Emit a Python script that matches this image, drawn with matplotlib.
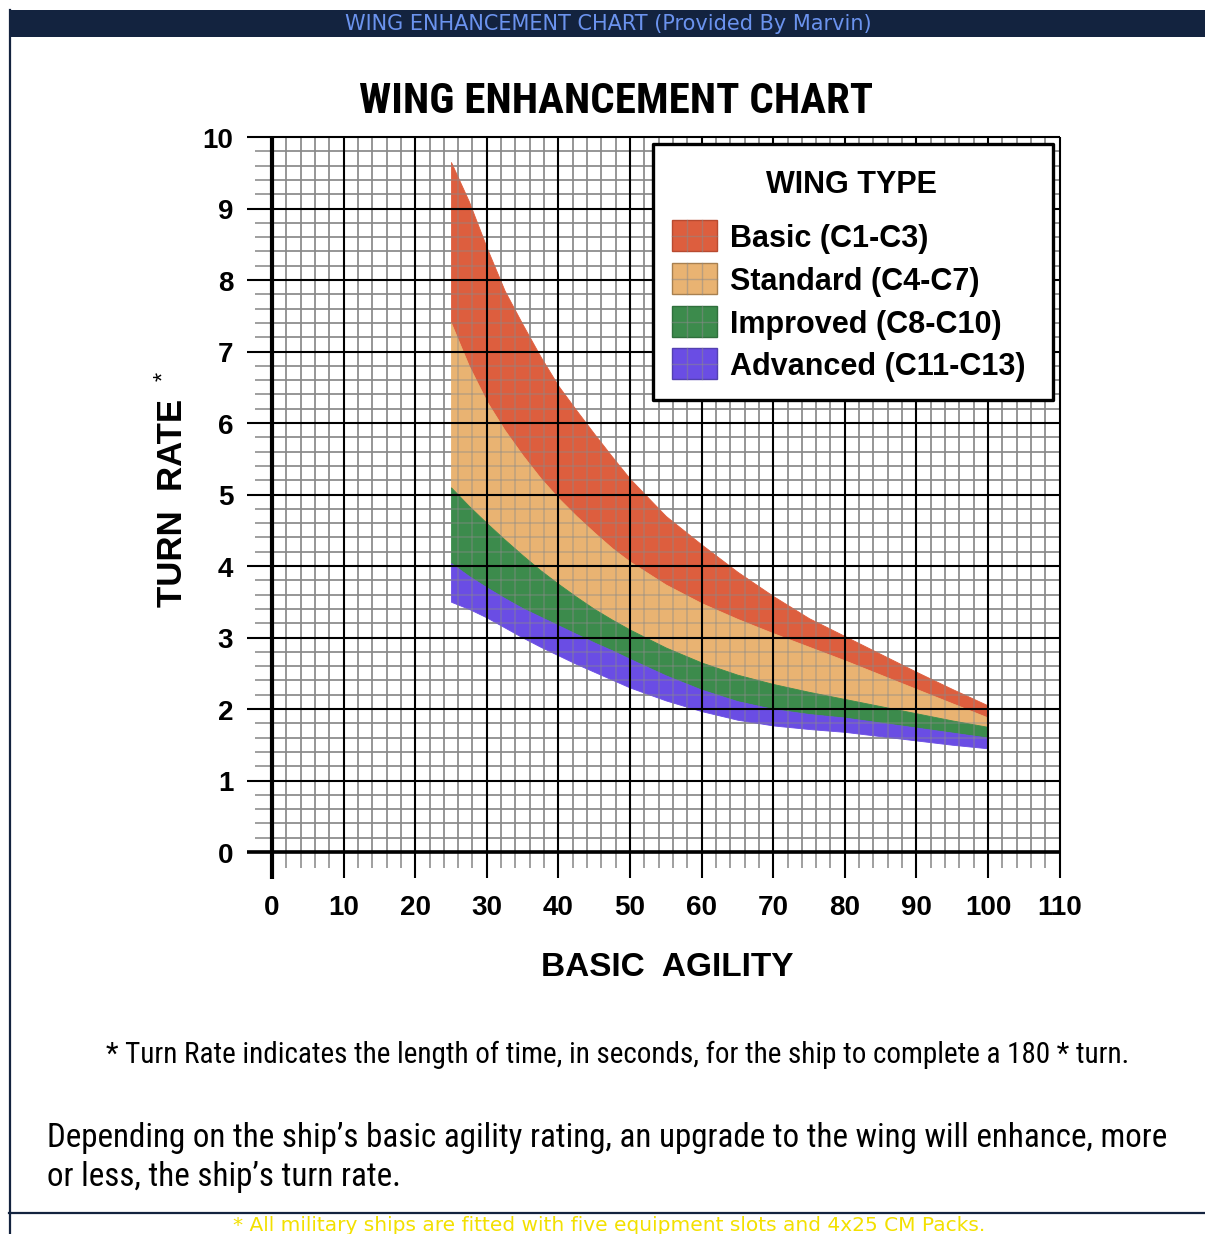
import numpy as np
import matplotlib
matplotlib.use("Agg")
import matplotlib.pyplot as plt
from matplotlib.patches import Rectangle
from matplotlib import font_manager as fm

# ---------------------------------------------------------------
# Turn rate bands per wing type (seconds for a 180 deg turn)
# ---------------------------------------------------------------
agility = [25, 27.5, 30, 32.5, 35, 37.5, 40, 42.5, 45, 47.5, 50,
           55, 60, 65, 70, 75, 80, 85, 90, 95, 100]

basic_top = [9.65, 9.1, 8.45, 7.85, 7.38, 6.93, 6.52, 6.18, 5.85, 5.53, 5.22,
             4.7, 4.3, 3.92, 3.58, 3.27, 3.02, 2.77, 2.52, 2.28, 2.05]
standard_top = [7.4, 6.8, 6.3, 5.9, 5.55, 5.23, 4.95, 4.7, 4.47, 4.25, 4.06,
                3.74, 3.48, 3.26, 3.06, 2.87, 2.68, 2.48, 2.28, 2.08, 1.88]
improved_top = [5.1, 4.84, 4.6, 4.37, 4.15, 3.94, 3.75, 3.57, 3.4, 3.25, 3.11,
                2.86, 2.65, 2.48, 2.35, 2.24, 2.14, 2.04, 1.94, 1.84, 1.75]
advanced_top = [4.04, 3.86, 3.7, 3.55, 3.41, 3.29, 3.17, 3.05, 2.93, 2.82, 2.7,
                2.47, 2.27, 2.11, 2.0, 1.93, 1.88, 1.81, 1.74, 1.67, 1.6]
advanced_bottom = [3.5, 3.4, 3.28, 3.14, 3.0, 2.87, 2.75, 2.63, 2.52, 2.41, 2.3,
                   2.12, 1.97, 1.85, 1.77, 1.72, 1.68, 1.62, 1.56, 1.5, 1.45]

wing_types = ["Basic (C1-C3)", "Standard (C4-C7)", "Improved (C8-C10)", "Advanced (C11-C13)"]
wing_colors = ["#dd5e3e", "#e9b372", "#3c8b4c", "#6a4de4"]
wing_edges = ["#b84a30", "#a88050", "#2f6f3c", "#5340b0"]

x_ticks = list(range(0, 111, 10))
y_ticks = list(range(0, 11))

# ---------------------------------------------------------------
# fonts: narrow face if the system has one
# ---------------------------------------------------------------
installed = {f.name for f in fm.fontManager.ttflist}
NARROW = None
for name in ["Liberation Sans Narrow", "Roboto Condensed", "Open Sans Condensed"]:
    if name in installed:
        NARROW = name
        break
BOLD_FACE = "Liberation Sans"

W, H = 1205, 1234
fig = plt.figure(figsize=(W / 100, H / 100), dpi=100)
fig.patch.set_facecolor("white")

# pixel mapping of the plotting area
X0, XS = 272, 7.16
Y0, YS = 852, 71.5
XMIN, XMAX = -3.6, 110
YMIN, YMAX = -0.38, 10
lp, rp = X0 + XMIN * XS, X0 + XMAX * XS
tp, bp = Y0 - YMAX * YS, Y0 - YMIN * YS
ax = fig.add_axes([lp / W, 1 - bp / H, (rp - lp) / W, (bp - tp) / H])
ax.set_xlim(XMIN, XMAX)
ax.set_ylim(YMIN, YMAX)
ax.axis("off")

# grid
minor_x = [v for v in range(0, 111, 2) if v % 10]
minor_y = [i / 5 for i in range(0, 51) if i % 5]
grid_gray = "#8a8a8a"
ax.vlines(minor_x, -0.22, 10, color=grid_gray, lw=1.15, zorder=1, clip_on=False)
ax.hlines(minor_y, -2.4, 110, color=grid_gray, lw=1.15, zorder=1, clip_on=False)

# bands
x = np.array(agility)
bounds = [basic_top, standard_top, improved_top, advanced_top, advanced_bottom]
for i, c in enumerate(wing_colors):
    ax.fill_between(x, bounds[i + 1], bounds[i], color=c, lw=0.6, edgecolor=c, zorder=2)

# grid shows through the bands
ax.vlines(minor_x, 0, 10, color=grid_gray, lw=1.15, alpha=0.45, zorder=3)
ax.hlines(minor_y, 0, 110, color=grid_gray, lw=1.15, alpha=0.45, zorder=3)

ax.vlines(x_ticks, -0.36, 10, color="black", lw=1.5, zorder=4, clip_on=False)
ax.hlines(y_ticks, -3.5, 110, color="black", lw=1.5, zorder=4, clip_on=False)
ax.vlines(0, -0.38, 10, color="black", lw=3.0, zorder=5, clip_on=False)
ax.hlines(0, -3.5, 110, color="black", lw=2.6, zorder=5, clip_on=False)

tick_font = dict(family=BOLD_FACE, fontweight="bold", fontsize=20, color="black")
for v in x_ticks:
    ax.text(v, -0.88, str(v), ha="center", va="baseline", **tick_font)
for v in y_ticks:
    ax.text(-5.4, v - 0.15, str(v), ha="right", va="baseline", **tick_font)

# ---------------------------------------------------------------
# page decoration in pixel coordinates
# ---------------------------------------------------------------
page = fig.add_axes([0, 0, 1, 1], zorder=10)
page.set_xlim(0, W)
page.set_ylim(H, 0)
page.axis("off")

navy = "#13233f"
page.add_patch(Rectangle((9, 10), W - 9, 27, color=navy, lw=0))
page.plot([10, 10], [10, H], color=navy, lw=1.6)
page.plot([9, W], [1213, 1213], color=navy, lw=1.6)
page.text(608, 24, "WING ENHANCEMENT CHART (Provided By Marvin)", color="#6b93ee",
          fontsize=15, family="DejaVu Sans", ha="center", va="center")
page.text(609, 1231, "* All military ships are fitted with five equipment slots and 4x25 CM Packs.",
          color="#f3e000", fontsize=14.5, family="DejaVu Sans", ha="center", va="baseline")

if NARROW:
    page.text(616, 113, "WING ENHANCEMENT CHART", family=NARROW, fontweight="bold",
              fontsize=31, ha="center", va="baseline")
else:
    page.text(616, 113, "WING ENHANCEMENT CHART", family=BOLD_FACE, fontweight="bold",
              fontsize=26, ha="center", va="baseline")

page.text(667, 976, "BASIC  AGILITY", family=BOLD_FACE, fontweight="bold",
          fontsize=24, ha="center", va="baseline")
page.text(182, 503, "TURN  RATE", family=BOLD_FACE, fontweight="bold", fontsize=25,
          rotation=90, rotation_mode="anchor", ha="center", va="baseline")
page.text(170, 376, "*", family=BOLD_FACE, fontsize=17, rotation=90,
          rotation_mode="anchor", ha="center", va="baseline")

# legend
page.add_patch(Rectangle((653, 144), 400, 256, facecolor="white", edgecolor="black",
                         lw=2.4, joinstyle="round"))
page.text(852, 193, "WING TYPE", family=BOLD_FACE, fontweight="bold", fontsize=22,
          ha="center", va="baseline")
baselines = [247, 290, 333, 375]
for label, c, ec, yb in zip(wing_types, wing_colors, wing_edges, baselines):
    y0 = yb - 27
    page.add_patch(Rectangle((672, y0), 45, 31, facecolor=c, edgecolor=ec, lw=1.0))
    for gx in (687, 702):
        page.plot([gx, gx], [y0, y0 + 31], color=grid_gray, lw=1.0, alpha=0.5)
    page.plot([672, 717], [y0 + 15.5, y0 + 15.5], color=grid_gray, lw=1.0, alpha=0.5)
    page.text(730, yb, label, family=BOLD_FACE, fontweight="bold", fontsize=22,
              ha="left", va="baseline")

# notes below the chart
note_face = NARROW if NARROW else BOLD_FACE
note_size = 21 if NARROW else 17.5
para_size = 23.8 if NARROW else 19.5
page.text(618, 1063, "* Turn Rate indicates the length of time, in seconds, for the ship to complete a 180 * turn.",
          family=note_face, fontsize=note_size, ha="center", va="baseline")
page.text(47, 1147, "Depending on the ship\u2019s basic agility rating, an upgrade to the wing will enhance, more",
          family=note_face, fontsize=para_size, ha="left", va="baseline")
page.text(47, 1186, "or less, the ship\u2019s turn rate.",
          family=note_face, fontsize=para_size, ha="left", va="baseline")

fig.savefig("out.png", dpi=100)
